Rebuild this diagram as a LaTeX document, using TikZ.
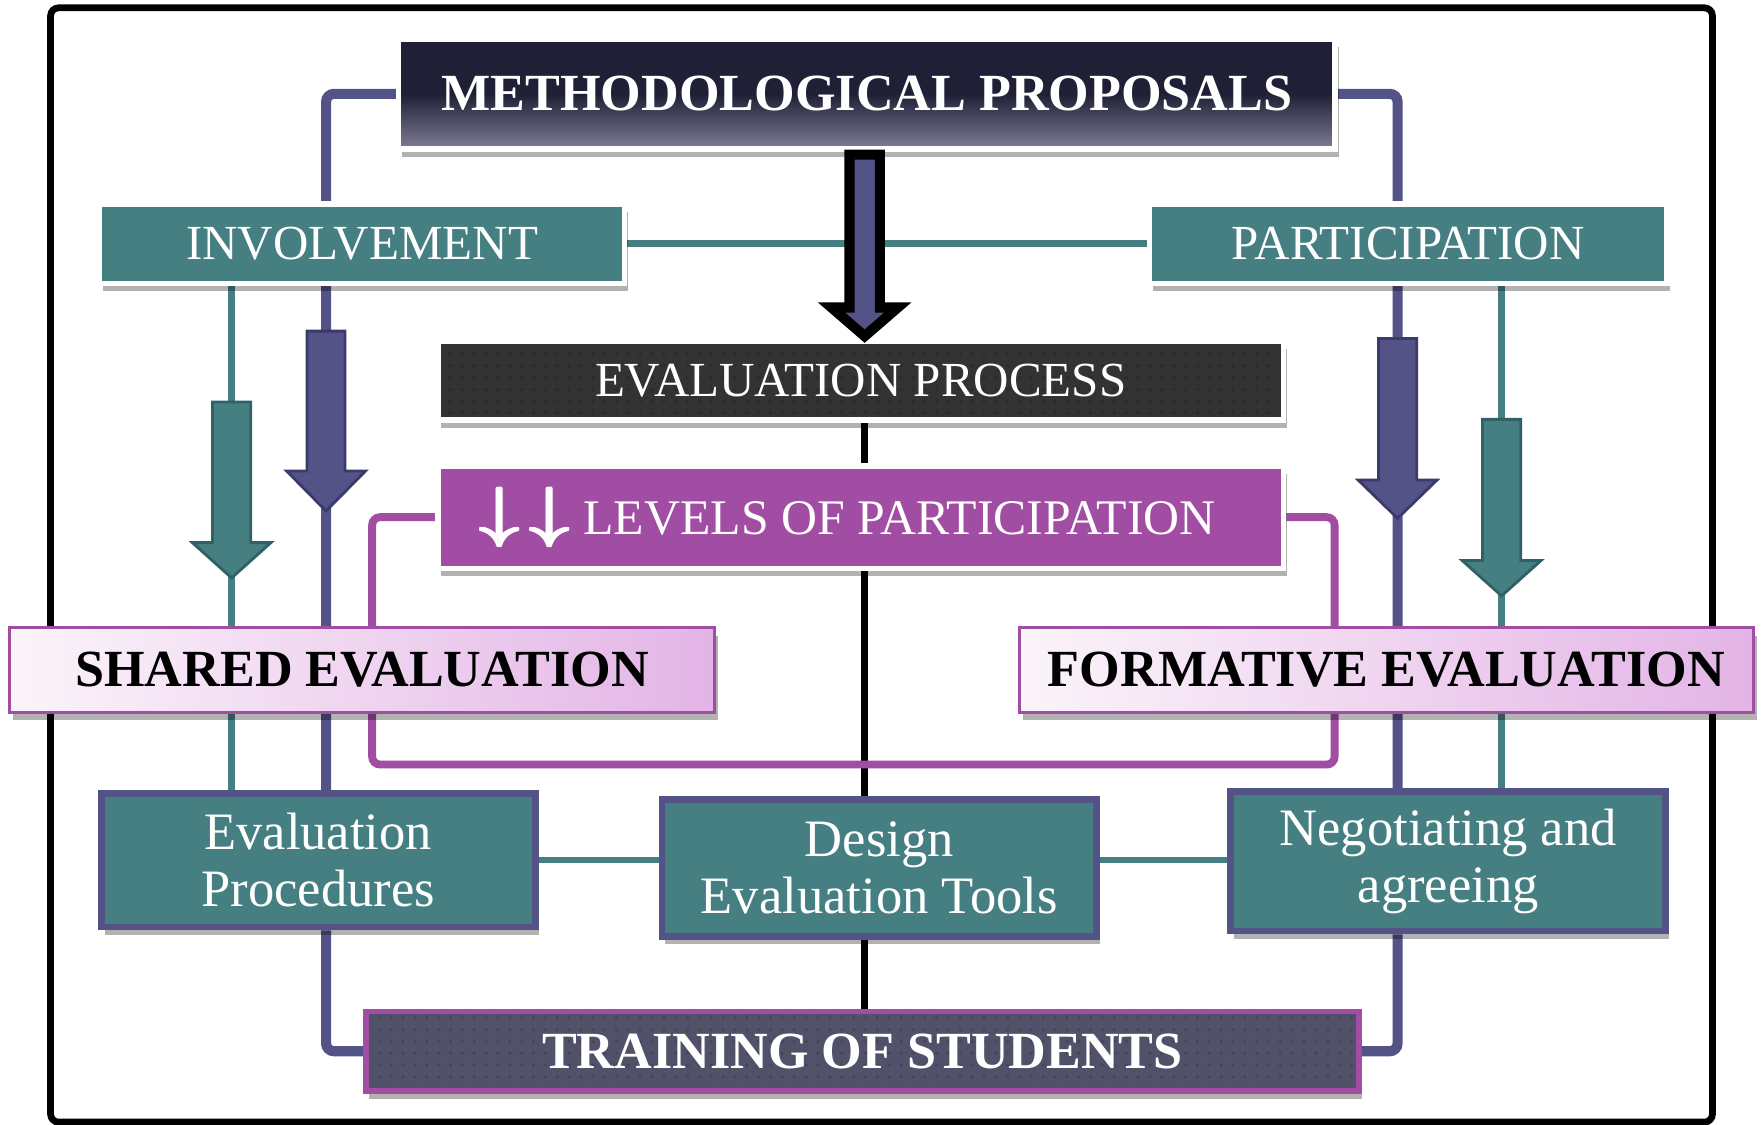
\documentclass[tikz,border=0pt]{standalone}
\usepackage{fontspec}
\setmainfont{Liberation Serif}
\usepackage{tikz}
\usetikzlibrary{shadows,patterns,backgrounds}

\definecolor{tealc}{HTML}{457F82}
\definecolor{tealdark}{HTML}{2F6165}
\definecolor{navyc}{HTML}{535388}
\definecolor{navydark}{HTML}{3B3A6A}
\definecolor{purplec}{HTML}{A04DA3}
\definecolor{methtop}{HTML}{1F2035}
\definecolor{methbot}{HTML}{807D96}
\definecolor{evalgray}{HTML}{333333}
\definecolor{traingray}{HTML}{51526A}
\definecolor{pinkleft}{HTML}{FBF4FA}
\definecolor{pinkright}{HTML}{E3B4E6}

% x, top, head start, tip, half shaft, half head, style
\newcommand{\fatarrow}[7]{%
\draw[#7] ({#1-#5},#2) -- ({#1+#5},#2) -- ({#1+#5},#3) -- ({#1+#6},#3) -- (#1,#4) -- ({#1-#6},#3) -- ({#1-#5},#3) -- cycle;}
\newcommand{\heavydown}{\rlap{$\downarrow$}\kern0.4pt\rlap{$\downarrow$}\kern0.4pt$\downarrow$}
\newcommand{\levelarrows}{{\fontsize{16.5}{18}\selectfont\boldmath\heavydown\kern2pt\heavydown}}

\begin{document}
\begin{tikzpicture}[
  softshadow/.style={drop shadow={shadow xshift=0.3mm, shadow yshift=-0.7mm, fill=black, opacity=0.3}},
  capfont/.style={font=\fontsize{12.4}{14}\selectfont},
  boldfont/.style={font=\fontsize{13.2}{15}\selectfont\bfseries},
  mixfont/.style={font=\fontsize{13.3}{14.5}\selectfont},
  whitebox/.style={draw=white, line width=0.05cm, inner sep=0pt, text=white, softshadow},
  dotted fill/.style={preaction={fill=#1}, pattern=dots, pattern color=#1!85!black},
  tealbox/.style={fill=tealc, draw=navyc, line width=0.06cm, inner sep=0pt, text=white, align=center, mixfont, softshadow},
  pinkbox/.style={left color=pinkleft, right color=pinkright, draw=purplec, line width=0.025cm, inner sep=0pt, boldfont, softshadow},
  navyline/.style={navyc, line width=0.09cm, rounded corners=2pt},
  tealline/.style={tealc, line width=0.06cm},
  purpleline/.style={purplec, line width=0.07cm, rounded corners=2pt},
  blackline/.style={black, line width=0.06cm}
]
\useasboundingbox (0,0) rectangle (15.68,10);

% columns of the connectors
\coordinate (tealL) at (2.06,0);
\coordinate (navyL) at (2.90,0);
\coordinate (midline) at (7.69,0);
\coordinate (navyR) at (12.43,0);
\coordinate (tealR) at (13.355,0);
\coordinate (loopL) at (3.31,3.20);
\coordinate (loopR) at (11.87,3.20);

\node[whitebox, top color=methtop, bottom color=methbot, middle color=methtop, boldfont, minimum width=8.33cm, minimum height=0.98cm] (meth) at (7.71,9.165) {METHODOLOGICAL PROPOSALS};
\node[whitebox, fill=tealc, capfont, minimum width=4.67cm, minimum height=0.705cm] (inv) at (3.22,7.8325) {INVOLVEMENT};
\node[whitebox, fill=tealc, capfont, minimum width=4.60cm, minimum height=0.705cm] (part) at (12.525,7.8325) {PARTICIPATION};
\node[whitebox, dotted fill=evalgray, capfont, minimum width=7.52cm, minimum height=0.70cm] (evalp) at (7.655,6.615) {EVALUATION PROCESS};
\node[whitebox, fill=purplec, capfont, minimum width=7.52cm, minimum height=0.91cm, inner xsep=0.36cm] (levels) at (7.655,5.40) {\makebox[6.8cm][l]{\levelarrows\ \fontsize{12.6}{14}\selectfont LEVELS OF PARTICIPATION}};

\node[pinkbox, minimum width=6.265cm, minimum height=0.755cm] (shared) at (3.22,4.04) {SHARED EVALUATION};
\node[pinkbox, minimum width=6.53cm, minimum height=0.755cm] (formative) at (12.33,4.04) {FORMATIVE EVALUATION};

\node[tealbox, minimum width=3.86cm, minimum height=1.19cm] (evproc) at (2.83,2.35) {Evaluation\\Procedures};
\node[tealbox, minimum width=3.865cm, minimum height=1.22cm] (design) at (7.82,2.28) {Design\\Evaluation Tools};
\node[tealbox, minimum width=3.87cm, minimum height=1.24cm] (neg) at (12.88,2.34) {Negotiating and\\agreeing};

\node[softshadow, draw=purplec, line width=0.05cm, dotted fill=traingray, boldfont, text=white, inner sep=0pt, minimum width=8.83cm, minimum height=0.71cm] (train) at (7.67,0.65) {TRAINING OF STUDENTS};

% big arrows
\fatarrow{7.69}{8.625}{7.265}{7.01}{0.135}{0.295}{fill=navyc, draw=black, line width=0.09cm}
\fatarrow{2.90}{7.055}{5.81}{5.455}{0.169}{0.35}{fill=navyc, draw=navydark, line width=0.025cm}
\fatarrow{2.06}{6.425}{5.174}{4.86}{0.17}{0.35}{fill=tealc, draw=tealdark, line width=0.025cm}
\fatarrow{12.43}{6.99}{5.73}{5.39}{0.17}{0.35}{fill=navyc, draw=navydark, line width=0.025cm}
\fatarrow{13.355}{6.27}{5.014}{4.70}{0.17}{0.35}{fill=tealc, draw=tealdark, line width=0.025cm}

\begin{scope}[on background layer]
\draw[line width=0.06cm, rounded corners=2pt] (0.45,0.02) rectangle (15.23,9.93);
\draw[navyline] (meth.west) -| (navyL |- evproc.north);
\draw[navyline] (navyL |- evproc.south) |- (train.west);
\draw[navyline] (meth.east) -| (navyR |- neg.north);
\draw[navyline] (navyR |- neg.south) |- (train.east);
\draw[tealline] (inv.east) -- (part.west);
\draw[tealline] (inv.south -| tealL) -- (evproc.north -| tealL);
\draw[tealline] (part.south -| tealR) -- (neg.north -| tealR);
\draw[tealline] (evproc.east) -- (evproc.east -| neg.west);
\draw[blackline] (evalp.south -| midline) -- (train.north -| midline);
\draw[purpleline] (levels.west) -| (loopL) -| (loopR |- levels.east) -- (levels.east);
\end{scope}
\end{tikzpicture}
\end{document}
